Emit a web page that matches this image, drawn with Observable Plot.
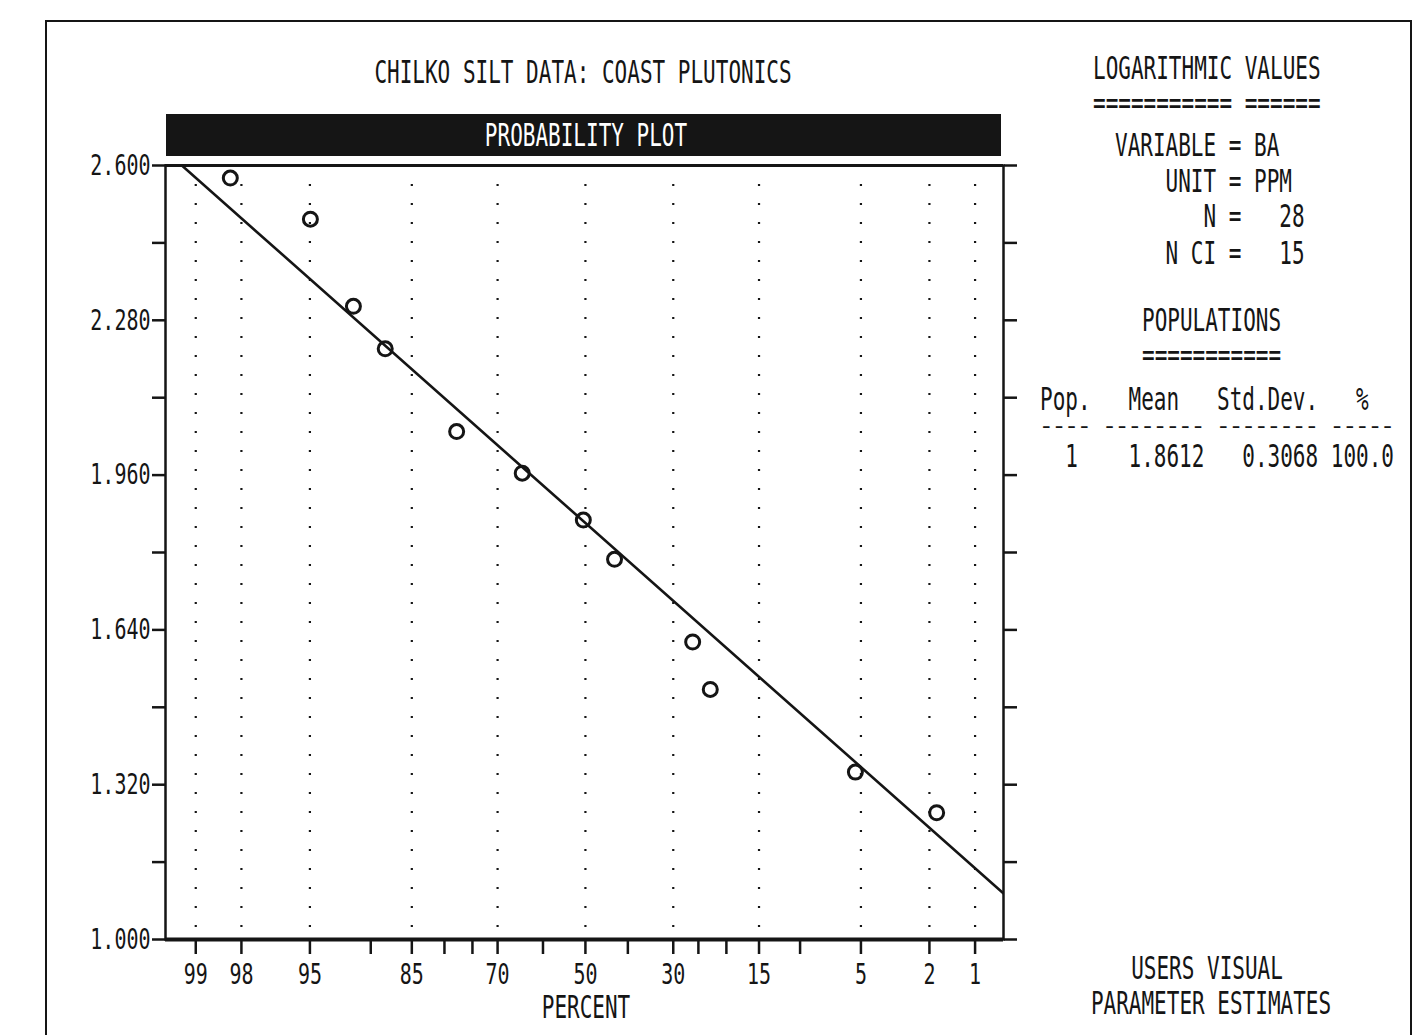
<!DOCTYPE html>
<html><head><meta charset="utf-8">
<script src="https://cdn.jsdelivr.net/npm/d3@7"></script>
<script src="https://cdn.jsdelivr.net/npm/@observablehq/plot@0.6"></script>
<style>
body{margin:0;background:#fff;}
#page{position:relative;width:1418px;height:1035px;overflow:hidden;font-family:"DejaVu Sans Mono",monospace;background:#fff;}
#page svg{position:absolute;left:0;top:0;}
.t{position:absolute;white-space:pre;font-size:21px;line-height:16px;height:16px;color:#151515;transform-origin:0 50%;transform:scaleY(1.5);}
.c{transform-origin:50% 50%;transform:translateX(-50%) scaleY(1.5);}
.flat{transform:scaleY(0.6);font-weight:bold;line-height:12px;height:12px;}
#border{position:absolute;left:45px;top:20px;width:1363px;height:1030px;border:2px solid #151515;border-bottom:none;}
#bar{position:absolute;left:166px;top:114px;width:835px;height:42px;background:#151515;}
</style></head><body><div id="page"><div id="border"></div><div id="bar"></div></div>
<script>
// ---- data ----
const labelPercents = [99, 98, 95, 85, 70, 50, 30, 15, 5, 2, 1];
const tickPercents = [99, 98, 95, 90, 85, 80, 75, 70, 60, 50, 40, 30, 25, 20, 15, 10, 5, 2, 1];
const samplePercent = [98.3, 94.97, 91.7, 88.4, 77.9, 64.7, 50.5, 43.1, 26.1, 22.8, 5.35, 1.80];
const sampleValue = [2.574, 2.489, 2.309, 2.221, 2.050, 1.964, 1.867, 1.786, 1.615, 1.517, 1.346, 1.262];
const yLabelTicks = [1.0, 1.32, 1.64, 1.96, 2.28, 2.6];
const yAllTicks = [1.0, 1.16, 1.32, 1.48, 1.64, 1.80, 1.96, 2.12, 2.28, 2.44, 2.6];
const linePercent = [99.38, 0.62];
const lineValue = [2.628, 1.094];
const popRows = [["1", "1.8612", "0.3068", "100.0"]];

// inverse standard normal CDF (probability-paper scale transform)
function probit(p) {
  const a = [-3.969683028665376e+01, 2.209460984245205e+02, -2.759285104469687e+02, 1.383577518672690e+02, -3.066479806614716e+01, 2.506628277459239e+00];
  const b = [-5.447609879822406e+01, 1.615858368580409e+02, -1.556989798598866e+02, 6.680131188771972e+01, -1.328068155288572e+01];
  const c = [-7.784894002430293e-03, -3.223964580411365e-01, -2.400758277161838e+00, -2.549732539343734e+00, 4.374664141464968e+00, 2.938163982698783e+00];
  const d = [7.784695709041462e-03, 3.224671290700398e-01, 2.445134137142996e+00, 3.754408661907416e+00];
  const pl = 0.02425;
  if (p < pl) { const q = Math.sqrt(-2 * Math.log(p)); return (((((c[0]*q+c[1])*q+c[2])*q+c[3])*q+c[4])*q+c[5]) / ((((d[0]*q+d[1])*q+d[2])*q+d[3])*q+1); }
  if (p > 1 - pl) { const q = Math.sqrt(-2 * Math.log(1 - p)); return -(((((c[0]*q+c[1])*q+c[2])*q+c[3])*q+c[4])*q+c[5]) / ((((d[0]*q+d[1])*q+d[2])*q+d[3])*q+1); }
  const q = p - 0.5, r = q * q;
  return (((((a[0]*r+a[1])*r+a[2])*r+a[3])*r+a[4])*r+a[5])*q / (((((b[0]*r+b[1])*r+b[2])*r+b[3])*r+b[4])*r+1);
}
const z = (pct) => probit(pct / 100);

const samples = samplePercent.map((p, i) => ({p, v: sampleValue[i]}));
const fitLine = linePercent.map((p, i) => ({p, v: lineValue[i]}));
const xTicks = tickPercents.map(z);
const xLabel = new Map(tickPercents.map(p => [z(p), labelPercents.includes(p) ? String(p) : ""]));

const ink = "#151515";
const chart = Plot.plot({
  width: 1418, height: 1035,
  marginLeft: 165, marginRight: 415, marginTop: 165, marginBottom: 96,
  style: {fontFamily: "DejaVu Sans Mono, monospace", fontSize: "20px", color: ink, background: "transparent"},
  x: {type: "linear", domain: [2.507, -2.496]},
  y: {domain: [1, 2.6]},
  marks: [
    Plot.ruleX(labelPercents, {x: d => z(d), stroke: ink, strokeWidth: 2.2, strokeDasharray: "2,17"}),
    Plot.frame({stroke: ink, strokeWidth: 2.5}),
    Plot.ruleY([1], {stroke: ink, strokeWidth: 4}),
    Plot.ruleY([2.6], {stroke: ink, strokeWidth: 3}),
    Plot.axisY(yAllTicks, {anchor: "left", tickSize: 13, tickPadding: 2, strokeWidth: 2.5, label: null,
      tickFormat: d => yLabelTicks.includes(d) ? d3.format(".3f")(d) : ""}),
    Plot.axisY(yAllTicks, {anchor: "right", tickSize: 13, strokeWidth: 2.5, label: null, tickFormat: () => ""}),
    Plot.axisX(xTicks, {anchor: "bottom", tickSize: 15, tickPadding: 9, strokeWidth: 2.5, label: null,
      tickFormat: d => xLabel.get(d) ?? ""}),
    Plot.line(fitLine, {x: d => z(d.p), y: "v", stroke: ink, strokeWidth: 2.6, clip: true}),
    Plot.dot(samples, {x: d => z(d.p), y: "v", r: 7, stroke: ink, strokeWidth: 3, fill: "none"})
  ]
});
const page = document.getElementById("page");
page.appendChild(chart);

// stretch tick labels vertically like the dot-matrix font
chart.querySelectorAll('g[aria-label$="tick label"] text').forEach(el => {
  const tr = el.getAttribute("transform");
  if (tr) el.setAttribute("transform", tr + " scale(1,1.45)");
  else {
    const x = el.getAttribute("x") || 0, y = el.getAttribute("y") || 0;
    el.removeAttribute("x"); el.removeAttribute("y");
    el.setAttribute("transform", `translate(${x},${y}) scale(1,1.45)`);
  }
});

function addText(str, x, y, opts = {}) {
  const d = document.createElement("div");
  d.className = "t" + (opts.center ? " c" : "") + (opts.flat ? " flat" : "");
  d.textContent = str;
  d.style.left = x + "px";
  d.style.top = (y - (opts.flat ? 6 : 8)) + "px";
  if (opts.color) d.style.color = opts.color;
  page.appendChild(d);
}
addText("CHILKO SILT DATA: COAST PLUTONICS", 583, 72, {center: true});
addText("PROBABILITY PLOT", 586, 135, {center: true, color: "#fff"});
addText("PERCENT", 586, 1007, {center: true});
addText("LOGARITHMIC VALUES", 1093, 68);
addText("=========== ======", 1093, 103);
addText("VARIABLE = BA", 1115, 145);
addText("    UNIT = PPM", 1115, 181);
addText("       N =   28", 1115, 216);
addText("    N CI =   15", 1115, 253);
addText("POPULATIONS", 1142, 320);
addText("===========", 1142, 355);
addText("Pop.   Mean   Std.Dev.   %", 1040, 399);
addText("---- -------- -------- -----", 1040, 427, {flat: true});
popRows.forEach((r, i) => {
  addText("  " + r[0] + "    " + r[1] + "   " + r[2] + " " + r[3], 1040, 456 + i * 30);
});
addText("USERS VISUAL", 1207, 968, {center: true});
addText("PARAMETER ESTIMATES", 1211, 1003, {center: true});
</script>
</body></html>
